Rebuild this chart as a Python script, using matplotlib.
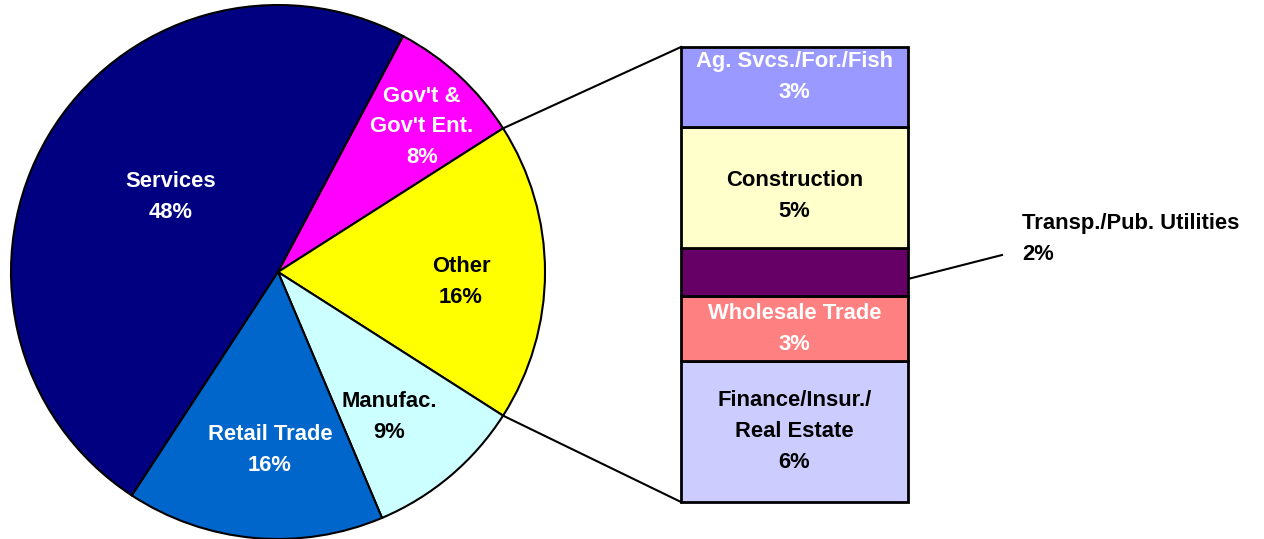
import numpy as np
import matplotlib
matplotlib.use("Agg")
import matplotlib.pyplot as plt

plt.rcParams["font.family"] = ["Liberation Sans", "DejaVu Sans"]
plt.rcParams["font.weight"] = "bold"

# main pie (clockwise order, starting with Services)
pie_labels = ["Services\n48%", "Gov't &\nGov't Ent.\n8%", "Other\n16%", "Manufac.\n9%", "Retail Trade\n16%"]
pie_colors = ["#000080", "#FF00FF", "#FFFF00", "#CCFFFF", "#0066CC"]
pie_text_colors = ["white", "white", "black", "black", "white"]
services, govt, manufac, retail = 48.6, 8.2, 9.6, 15.6

# breakdown of "Other", bottom to top
sub_labels = ["Finance/Insur./\nReal Estate\n6%", "Wholesale Trade\n3%", "",
              "Construction\n5%", "Ag. Svcs./For./Fish\n3%"]
sub_values = [5.6, 2.6, 1.9, 4.8, 3.2]
sub_colors = ["#CCCCFF", "#FF8080", "#660066", "#FFFFCC", "#9999FF"]
sub_text_colors = ["black", "white", "white", "black", "white"]
callout_label = "Transp./Pub. Utilities\n2%"

other = sum(sub_values)
pie_values = [services, govt, other, manufac, retail]

W, H = 1264, 539
FS = 15.8
LS = 1.62
fig = plt.figure(figsize=(W / 100, H / 100), dpi=100)
ax = fig.add_axes([0, 0, 1, 1])

cx, cy, r = 278, H - 272, 267
total = sum(pie_values)
# start so that "Other" is centred on the horizontal axis
start = (services + govt + other / 2) / total * 360
wedges, _ = ax.pie(pie_values, colors=pie_colors, startangle=start, counterclock=False,
                   center=(cx, cy), radius=r, frame=True,
                   wedgeprops=dict(edgecolor="black", linewidth=1.5))
ax.set_xlim(0, W)
ax.set_ylim(0, H)
ax.axis("off")

label_pos = [(171, 197), (422, 127), (461, 282), (389, 417), (270, 450)]
for (px, py), lab, tc in zip(label_pos, pie_labels, pie_text_colors):
    ax.text(px, H - py, lab, ha="center", va="center", color=tc, fontsize=FS,
            fontweight="bold", linespacing=LS)

# stacked bar
bx0, bx1, by_top, by_bot = 681, 908, H - 47, H - 502
scale = (by_top - by_bot) / other
heights = [v * scale for v in sub_values]
bottoms = np.concatenate([[by_bot], by_bot + np.cumsum(heights)[:-1]])
ax.bar([(bx0 + bx1) / 2] * len(sub_values), heights, bottom=bottoms, width=bx1 - bx0,
       color=sub_colors, edgecolor="black", linewidth=2)

text_offsets = [0, 0, 0, -8, 10]
for b, h, lab, tc, off in zip(bottoms, heights, sub_labels, sub_text_colors, text_offsets):
    if lab:
        ax.text((bx0 + bx1) / 2, b + h / 2 + off, lab, ha="center", va="center",
                color=tc, fontsize=FS, fontweight="bold", linespacing=LS)

# connector lines from "Other" edges to bar corners
a_top = np.deg2rad(wedges[2].theta2)
a_bot = np.deg2rad(wedges[2].theta1)
ax.plot([cx + r * np.cos(a_top), bx0], [cy + r * np.sin(a_top), by_top], color="black", lw=1.5)
ax.plot([cx + r * np.cos(a_bot), bx0], [cy + r * np.sin(a_bot), by_bot], color="black", lw=1.5)

# callout for the small segment
tb = bottoms[2] + heights[2] / 2
ax.plot([bx1, 1002], [tb - 7, H - 255], color="black", lw=1.5)
ax.text(1022, H - 239, callout_label, ha="left", va="center", fontsize=FS,
        fontweight="bold", linespacing=LS)

fig.savefig("out.png", dpi=100)
